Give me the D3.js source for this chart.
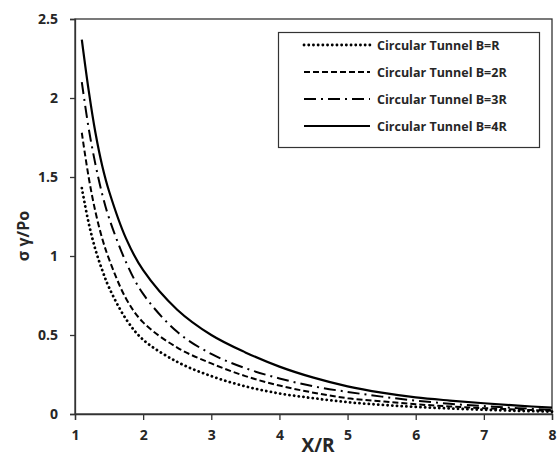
<!DOCTYPE html>
<html lang="en">
<head>
<meta charset="UTF-8">
<title>Circular tunnel stress</title>
<script src="https://d3js.org/d3.v7.min.js"></script>
<style>
  body { margin: 0; background: #fff; }
  text { font-family: "Open Sans", "DejaVu Sans", sans-serif; font-weight: bold; fill: #262626; }
</style>
</head>
<body>
<div id="chart"></div>
<script>
const xVals = [1.1, 1.2, 1.3, 1.4, 1.5, 1.75, 2, 2.5, 3, 3.5, 4, 4.5, 5, 5.5, 6, 6.5, 7, 7.5, 8];

const seriesNames = ["Circular Tunnel B=R", "Circular Tunnel B=2R", "Circular Tunnel B=3R", "Circular Tunnel B=4R"];
const bR  = [1.43, 1.21, 1.04, 0.91, 0.80, 0.60, 0.47, 0.33, 0.24, 0.175, 0.13, 0.10, 0.075, 0.058, 0.045, 0.035, 0.027, 0.020, 0.015];
const b2R = [1.78, 1.50, 1.28, 1.11, 0.98, 0.73, 0.58, 0.42, 0.32, 0.24, 0.18, 0.135, 0.10, 0.08, 0.062, 0.048, 0.037, 0.028, 0.020];
const b3R = [2.10, 1.81, 1.58, 1.39, 1.24, 0.96, 0.76, 0.52, 0.38, 0.29, 0.225, 0.175, 0.14, 0.11, 0.085, 0.065, 0.05, 0.037, 0.027];
const b4R = [2.37, 2.05, 1.78, 1.57, 1.41, 1.11, 0.91, 0.66, 0.50, 0.39, 0.30, 0.23, 0.175, 0.135, 0.105, 0.085, 0.068, 0.053, 0.040];

const xTicks = [1, 2, 3, 4, 5, 6, 7, 8];
const yTicks = [0, 0.5, 1, 1.5, 2, 2.5];

const width = 557, height = 457;
const margin = { top: 19, right: 5, bottom: 43, left: 75 };

const svg = d3.select("#chart").append("svg")
    .attr("width", width)
    .attr("height", height);

const x = d3.scaleLinear().domain([1, 8]).range([margin.left, width - margin.right]);
const y = d3.scaleLinear().domain([0, 2.5]).range([height - margin.bottom, margin.top]);

// frame around plot area
svg.append("rect")
    .attr("x", x(1)).attr("y", y(2.5))
    .attr("width", x(8) - x(1)).attr("height", y(0) - y(2.5))
    .attr("fill", "none").attr("stroke", "#333").attr("stroke-width", 1.3);

// axes
const xAxis = svg.append("g")
    .attr("transform", "translate(0," + y(0) + ")")
    .call(d3.axisBottom(x).tickValues(xTicks).tickFormat(d3.format("d")).tickSize(6).tickPadding(10));
const yAxis = svg.append("g")
    .attr("transform", "translate(" + x(1) + ",0)")
    .call(d3.axisLeft(y).tickValues(yTicks).tickFormat(d => d).tickSize(5).tickPadding(12));

[xAxis, yAxis].forEach(g => {
    g.select(".domain").attr("stroke", "#333").attr("stroke-width", 1.3);
    g.selectAll(".tick line").attr("stroke", "#333").attr("stroke-width", 1.3);
    g.selectAll(".tick text").style("font-size", "14px").style("font-family", "'Open Sans', sans-serif").style("font-weight", "bold").attr("fill", "#262626");
});

// axis titles
svg.append("text")
    .attr("x", 318).attr("y", 452)
    .attr("text-anchor", "middle")
    .style("font-size", "19px")
    .text("X/R");

svg.append("text")
    .attr("transform", "translate(29,236) rotate(-90)")
    .attr("text-anchor", "middle")
    .style("font-size", "16px")
    .text("σ γ/Po");

// curves
const styles = [
    { dash: "0.1,4.6", cap: "round", w: 2.8 },
    { dash: "6,3", cap: "butt", w: 2 },
    { dash: "12,5,2,5", cap: "butt", w: 2 },
    { dash: null, cap: "butt", w: 2.2 }
];
const allSeries = [bR, b2R, b3R, b4R];

const line = d3.line()
    .x((d, i) => x(xVals[i]))
    .y(d => y(d))
    .curve(d3.curveCatmullRom.alpha(0.5));

allSeries.forEach((vals, k) => {
    svg.append("path")
        .datum(vals)
        .attr("d", line)
        .attr("fill", "none")
        .attr("stroke", "#000")
        .attr("stroke-width", styles[k].w)
        .attr("stroke-linecap", styles[k].cap)
        .attr("stroke-dasharray", styles[k].dash);
});

// legend
const legend = svg.append("g");
legend.append("rect")
    .attr("x", 278.5).attr("y", 32.5)
    .attr("width", 261).attr("height", 115)
    .attr("fill", "#fff").attr("stroke", "#333").attr("stroke-width", 1.2);

seriesNames.forEach((name, k) => {
    const ly = 45 + k * 27;
    legend.append("line")
        .attr("x1", 304).attr("x2", 370)
        .attr("y1", ly).attr("y2", ly)
        .attr("stroke", "#000")
        .attr("stroke-width", styles[k].w)
        .attr("stroke-linecap", styles[k].cap)
        .attr("stroke-dasharray", styles[k].dash);
    legend.append("text")
        .attr("x", 377).attr("y", ly + 4.5)
        .style("font-size", "12.5px")
        .text(name);
});
</script>
</body>
</html>
